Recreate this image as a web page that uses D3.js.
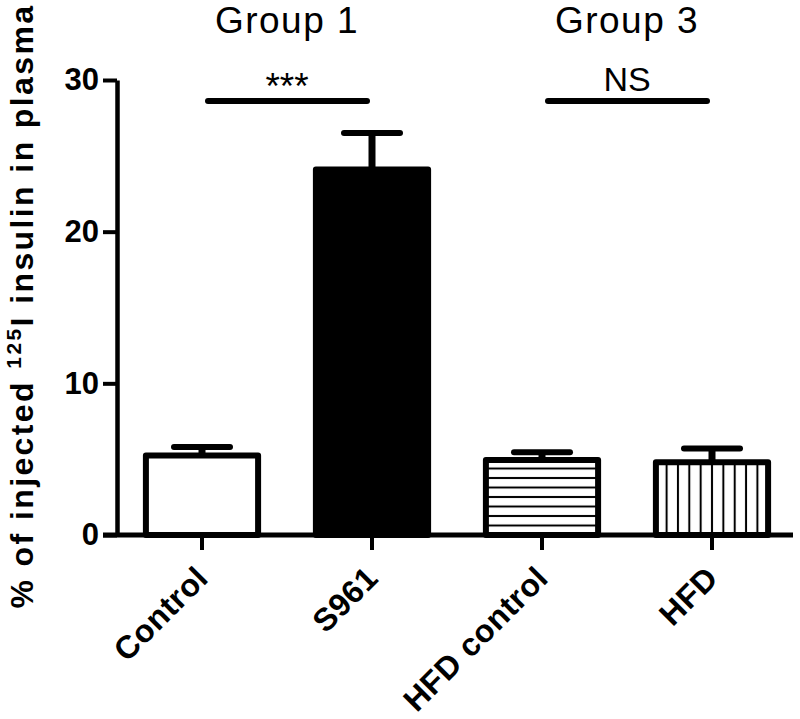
<!DOCTYPE html>
<html lang="en">
<head>
<meta charset="UTF-8">
<title>125I insulin in plasma</title>
<script src="https://d3js.org/d3.v7.min.js"></script>
<style>
  body { margin: 0; background: #fff; }
  svg text { font-family: "Liberation Sans", Arial, sans-serif; fill: #000; }
</style>
</head>
<body>
<div id="chart"></div>
<script>
// data
const categories = ["Control", "S961", "HFD control", "HFD"];
const means = [5.25, 24.1, 4.95, 4.8];
const errors = [0.55, 2.4, 0.5, 0.9];
const fills = ["white", "black", "hstripes", "vstripes"];
const yTicks = [0, 10, 20, 30];
const groups = [
  { label: "Group 1", from: "Control", to: "S961", sig: "***" },
  { label: "Group 3", from: "HFD control", to: "HFD", sig: "NS" }
];

const width = 800, height = 719;

const svg = d3.select("#chart").append("svg")
  .attr("width", width)
  .attr("height", height);

const y = d3.scaleLinear().domain([0, 30]).range([535, 80]);

const x = d3.scaleBand()
  .domain(categories)
  .range([117, 797])
  .paddingInner(0.34)
  .paddingOuter(0.17);

const defs = svg.append("defs");

// horizontal stripes, spaced up from the baseline
const hp = defs.append("pattern")
  .attr("id", "hstripes")
  .attr("patternUnits", "userSpaceOnUse")
  .attr("x", 0).attr("y", y(0) - 4.75)
  .attr("width", 20).attr("height", 9.5);
hp.append("rect").attr("width", 20).attr("height", 9.5).attr("fill", "white");
hp.append("rect").attr("y", 3.75).attr("width", 20).attr("height", 2).attr("fill", "black");

// vertical stripes centred on the bar
const vp = defs.append("pattern")
  .attr("id", "vstripes")
  .attr("patternUnits", "userSpaceOnUse")
  .attr("x", x("HFD") + x.bandwidth() / 2 - 5.675).attr("y", 0)
  .attr("width", 11.35).attr("height", 20);
vp.append("rect").attr("width", 11.35).attr("height", 20).attr("fill", "white");
vp.append("rect").attr("x", 4.675).attr("width", 2).attr("height", 20).attr("fill", "black");

const bars = categories.map((c, i) => ({ cat: c, mean: means[i], err: errors[i], fill: fills[i] }));

// bars
svg.selectAll("rect.bar")
  .data(bars)
  .enter()
  .append("rect")
    .attr("class", "bar")
    .attr("x", d => x(d.cat))
    .attr("y", d => y(d.mean))
    .attr("width", x.bandwidth())
    .attr("height", d => y(0) - y(d.mean))
    .attr("fill", d => d.fill.includes("stripes") ? `url(#${d.fill})` : d.fill)
    .attr("stroke", "black")
    .attr("stroke-width", 6)
    .attr("stroke-linejoin", "round");

// error bars (upper only)
const cx = d => x(d.cat) + x.bandwidth() / 2;
svg.selectAll("line.stem")
  .data(bars)
  .enter()
  .append("line")
    .attr("x1", cx).attr("x2", cx)
    .attr("y1", d => y(d.mean))
    .attr("y2", d => y(d.mean + d.err))
    .attr("stroke", "black")
    .attr("stroke-width", 7);

svg.selectAll("line.cap")
  .data(bars)
  .enter()
  .append("line")
    .attr("x1", d => cx(d) - 28).attr("x2", d => cx(d) + 28)
    .attr("y1", d => y(d.mean + d.err))
    .attr("y2", d => y(d.mean + d.err))
    .attr("stroke", "black")
    .attr("stroke-width", 6)
    .attr("stroke-linecap", "round");

// y axis
const yAxis = svg.append("g")
  .attr("transform", `translate(${x.range()[0]},0)`)
  .call(d3.axisLeft(y).tickValues(yTicks).tickSize(14).tickSizeOuter(0).tickPadding(4));
yAxis.select(".domain").attr("stroke-width", 4.5);
yAxis.selectAll(".tick line").attr("stroke-width", 4);
yAxis.selectAll(".tick text")
  .style("font-size", "31px")
  .style("font-weight", "bold");

// x axis
const xAxis = svg.append("g")
  .attr("transform", `translate(0,${y(0)})`)
  .call(d3.axisBottom(x).tickSize(15).tickSizeOuter(0));
xAxis.select(".domain")
  .attr("d", `M${x.range()[0] - 14},0H${x.range()[1] - 4}`)
  .attr("stroke-width", 5);
xAxis.selectAll(".tick line").attr("stroke-width", 4);
xAxis.selectAll(".tick text")
  .attr("x", 0).attr("y", 0).attr("dy", 0)
  .attr("text-anchor", "end")
  .attr("transform", "translate(8,45) rotate(-45)")
  .style("font-size", "32px")
  .style("font-weight", "bold")
  .style("letter-spacing", "0.5px");

// y axis title with superscript
const ytitle = svg.append("text")
  .attr("transform", "translate(33,306) rotate(-90)")
  .attr("text-anchor", "middle")
  .style("font-size", "32px")
  .style("font-weight", "bold")
  .style("letter-spacing", "2.4px");
ytitle.append("tspan").text("% of injected ");
ytitle.append("tspan").attr("dy", -12).style("font-size", "21px").text("125");
ytitle.append("tspan").attr("dy", 12).text("I insulin in plasma");

// group titles and significance bars
const mid = g => (x(g.from) + x(g.to) + x.bandwidth()) / 2;

svg.selectAll("text.group")
  .data(groups)
  .enter()
  .append("text")
    .attr("x", mid)
    .attr("y", 33)
    .attr("text-anchor", "middle")
    .style("font-size", "37px")
    .style("letter-spacing", "1.5px")
    .text(d => d.label);

svg.selectAll("line.sig")
  .data(groups)
  .enter()
  .append("line")
    .attr("x1", d => x(d.from) + x.bandwidth() / 2 + 6)
    .attr("x2", d => x(d.to) + x.bandwidth() / 2 - 5)
    .attr("y1", 101).attr("y2", 101)
    .attr("stroke", "black")
    .attr("stroke-width", 6)
    .attr("stroke-linecap", "round");

svg.selectAll("text.sig")
  .data(groups)
  .enter()
  .append("text")
    .attr("x", mid)
    .attr("y", d => d.sig === "***" ? 99 : 91)
    .attr("text-anchor", "middle")
    .style("font-size", d => d.sig === "***" ? "37px" : "34px")
    .text(d => d.sig);
</script>
</body>
</html>
